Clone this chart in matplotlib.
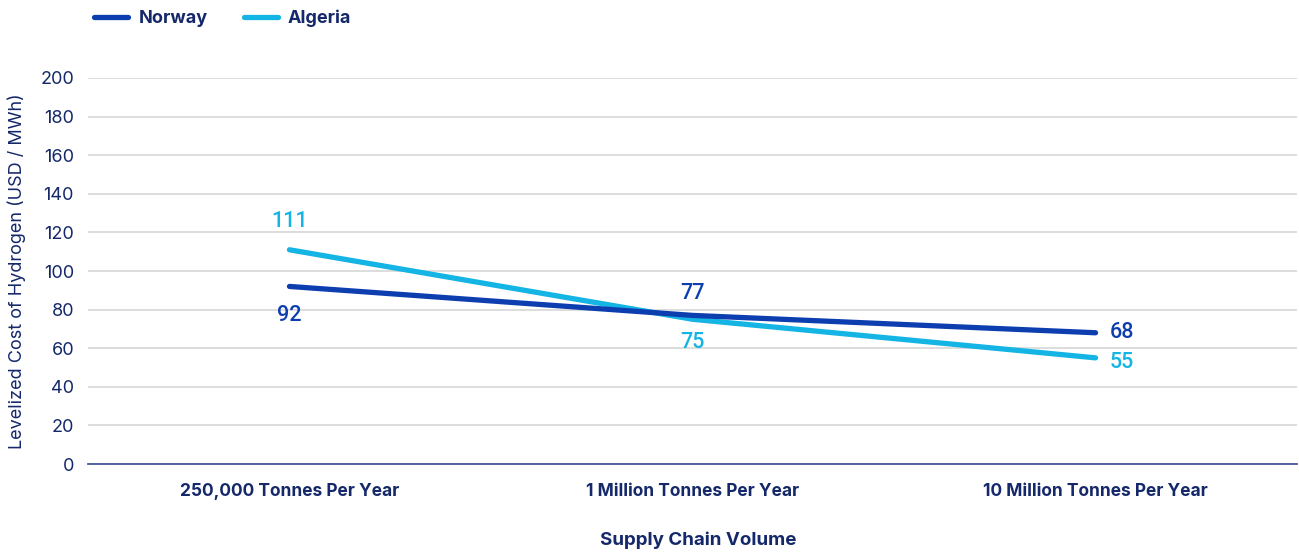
import matplotlib
matplotlib.use("Agg")
import matplotlib.pyplot as plt
from matplotlib.lines import Line2D

plt.rcParams['font.family'] = ['Inter', 'DejaVu Sans']

categories = ["250,000 Tonnes Per Year", "1 Million Tonnes Per Year", "10 Million Tonnes Per Year"]
norway = [92, 77, 68]
algeria = [111, 75, 55]
yticks = [0, 20, 40, 60, 80, 100, 120, 140, 160, 180, 200]

c_nor = "#0D3EB0"
c_alg = "#14B4E4"
c_txt = "#14286A"

fig = plt.figure(figsize=(12.99, 5.52), dpi=100)
ax = fig.add_axes([0.0677, 0.1594, 0.9308, 0.6993])
x = list(range(len(categories)))
ax.plot(x, norway, color=c_nor, lw=3.8, solid_capstyle='round', zorder=4)
ax.plot(x, algeria, color=c_alg, lw=3.8, solid_capstyle='round', zorder=3)

ax.set_xlim(-0.5, 2.5)
ax.set_ylim(0, 200)
ax.set_yticks(yticks)
ax.set_xticks(x)
ax.set_xticklabels(categories, fontsize=12.5, fontweight='bold', color=c_txt)
ax.tick_params(axis='y', labelsize=13, colors=c_txt, length=0, pad=10)
ax.tick_params(axis='x', length=0, pad=14)
for lab in ax.get_yticklabels():
    lab.set_color(c_txt)
ax.grid(axis='y', color='#D3D3D3', lw=1.1)
ax.set_axisbelow(True)
for s in ['top', 'right', 'left']:
    ax.spines[s].set_visible(False)
ax.spines['bottom'].set_color('#4A5896')
ax.spines['bottom'].set_linewidth(1.3)

ax.set_ylabel("Levelized Cost of Hydrogen (USD / MWh)", fontsize=13, color=c_txt, labelpad=10)
ax.set_xlabel("Supply Chain Volume", fontsize=13.5, fontweight='bold', color=c_txt, labelpad=20)
ax.xaxis.set_label_coords(0.505, -0.175)

fs = 15.5
lab_kw = dict(textcoords='offset points', fontsize=fs, family=['Roboto', 'DejaVu Sans'],
              fontweight='medium')
# 250k labels
ax.annotate(str(algeria[0]), (x[0], algeria[0]), xytext=(0, 20), ha='center', va='center',
            color=c_alg, **lab_kw)
ax.annotate(str(norway[0]), (x[0], norway[0]), xytext=(0, -21), ha='center', va='center',
            color=c_nor, **lab_kw)
# 1M labels
ax.annotate(str(norway[1]), (x[1], norway[1]), xytext=(0, 16), ha='center', va='center',
            color=c_nor, **lab_kw)
ax.annotate(str(algeria[1]), (x[1], algeria[1]), xytext=(0, -17), ha='center', va='center',
            color=c_alg, **lab_kw)
# 10M labels
ax.annotate(str(norway[2]), (x[2], norway[2]), xytext=(10, 0), ha='left', va='center',
            color=c_nor, **lab_kw)
ax.annotate(str(algeria[2]), (x[2], algeria[2]), xytext=(10, -3), ha='left', va='center',
            color=c_alg, **lab_kw)

handles = [Line2D([], [], color=c_nor, lw=3.8, solid_capstyle='round'),
           Line2D([], [], color=c_alg, lw=3.8, solid_capstyle='round')]
leg = fig.legend(handles, ["Norway", "Algeria"], loc='upper left', bbox_to_anchor=(0.060, 1.012),
                 ncol=2, frameon=False, handlelength=1.9, columnspacing=2.0, handletextpad=0.55,
                 prop={'weight': 'bold', 'size': 13})
for t in leg.get_texts():
    t.set_color(c_txt)

fig.savefig("out.png", dpi=100)
